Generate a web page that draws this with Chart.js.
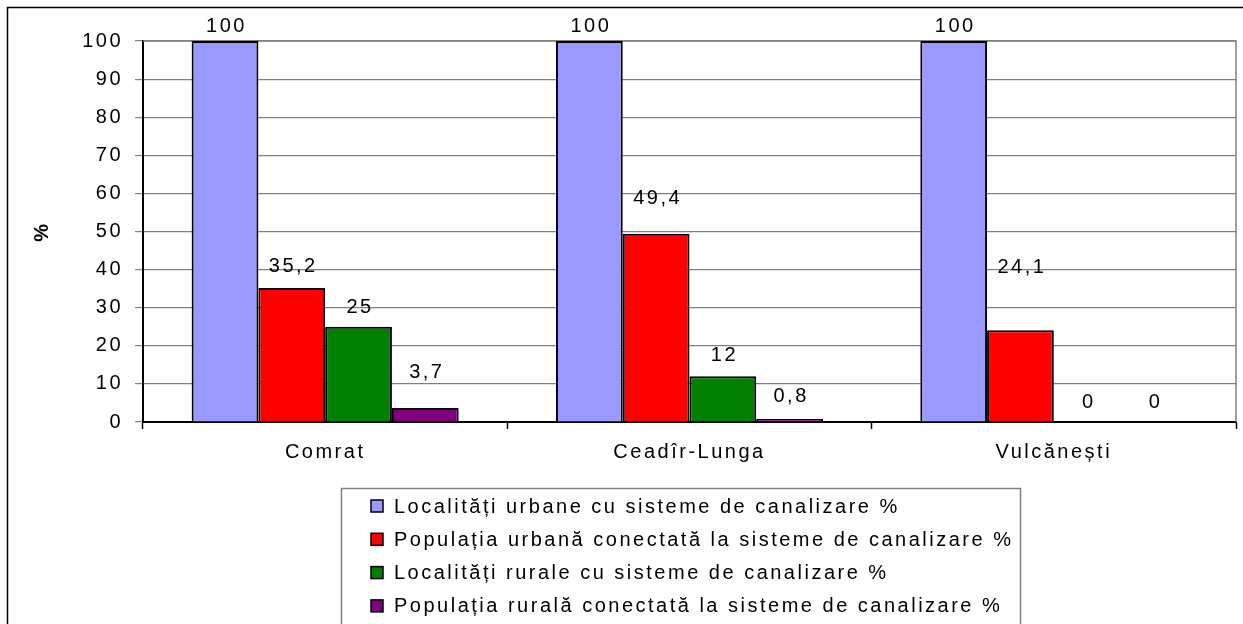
<!DOCTYPE html>
<html>
<head>
<meta charset="utf-8">
<script src="https://cdn.jsdelivr.net/npm/chart.js@4/dist/chart.umd.min.js"></script>
<style>
  html, body { margin: 0; padding: 0; background: #fff; }
  #canvasDiv { width: 1243px; height: 624px; position: relative; }
</style>
</head>
<body>
<div id="canvasDiv"><canvas id="myChart"></canvas></div>
<script>
// data
var categories = ['Comrat', 'Ceadîr-Lunga', 'Vulcănești'];
var seriesNames = [
    'Localități urbane cu sisteme de canalizare %',
    'Populația urbană conectată la sisteme de canalizare %',
    'Localități rurale cu sisteme de canalizare %',
    'Populația rurală conectată la sisteme de canalizare %'
];
var urbanLocalities = [100, 100, 100];
var urbanPopulation = [35.2, 49.4, 24.1];
var ruralLocalities = [25, 12, 0];
var ruralPopulation = [3.7, 0.8, 0];
var yMin = 0, yMax = 100, yStep = 10;

var seriesColors = ['#9999FF', '#FF0000', '#008000', '#800080'];
// how far each value label sits above its bar (px), as placed in the original
var labelLift = [[15, 15, 15], [21, 35, 63], [19, 21, 20], [35, 22, 20]];

var fontFamily = '"Liberation Sans", Arial, sans-serif';
var fontSize = 20;
var spacing = '2.5px';

function setSpacing(chart) {
    chart.ctx.letterSpacing = spacing;
}

function formatValue(v) {
    return String(v).replace('.', ',');
}

var extras = {
    id: 'extras',
    beforeUpdate: setSpacing,
    beforeLayout: setSpacing,
    beforeDraw: function (chart) {
        var ctx = chart.ctx;
        setSpacing(chart);
        ctx.save();
        ctx.fillStyle = '#fff';
        ctx.fillRect(0, 0, chart.width, chart.height);
        ctx.strokeStyle = '#000';
        ctx.lineWidth = 1.5;
        ctx.strokeRect(7.5, 7.5, 1300, 700);
        ctx.restore();
    },
    beforeDatasetsDraw: function (chart) {
        var ctx = chart.ctx, a = chart.chartArea;
        ctx.save();
        ctx.strokeStyle = '#808080';
        ctx.lineWidth = 1.5;
        ctx.beginPath();
        ctx.moveTo(a.left, a.top);
        ctx.lineTo(a.right, a.top);
        ctx.lineTo(a.right, a.bottom);
        ctx.stroke();
        ctx.restore();
    },
    afterDatasetsDraw: function (chart) {
        var ctx = chart.ctx;
        ctx.save();
        ctx.letterSpacing = spacing;
        ctx.font = fontSize + 'px ' + fontFamily;
        ctx.fillStyle = '#000';
        ctx.textAlign = 'center';
        ctx.textBaseline = 'middle';
        chart.data.datasets.forEach(function (ds, i) {
            chart.getDatasetMeta(i).data.forEach(function (bar, j) {
                ctx.fillText(formatValue(ds.data[j]), bar.x + 1.5, bar.y - labelLift[i][j]);
            });
        });
        ctx.restore();
    },
    afterDraw: function (chart) {
        var ctx = chart.ctx;
        var boxLeft = 341, boxTop = 488, boxRight = 1020;
        ctx.save();
        ctx.strokeStyle = '#808080';
        ctx.lineWidth = 1.5;
        ctx.strokeRect(boxLeft + 0.5, boxTop + 0.5, boxRight - boxLeft, 200);
        ctx.letterSpacing = spacing;
        ctx.font = fontSize + 'px ' + fontFamily;
        ctx.textAlign = 'left';
        ctx.textBaseline = 'middle';
        chart.data.datasets.forEach(function (ds, i) {
            var y = 506 + i * 33.3;
            ctx.fillStyle = ds.backgroundColor;
            ctx.fillRect(371, y - 6, 12, 12);
            ctx.strokeStyle = '#000';
            ctx.lineWidth = 1.5;
            ctx.strokeRect(371, y - 6, 12, 12);
            ctx.fillStyle = '#000';
            ctx.fillText(ds.label, 394, y + 1);
        });
        ctx.restore();
    }
};

var ctx = document.getElementById('myChart').getContext('2d');
var mychart = new Chart(ctx, {
    type: 'bar',
    data: {
        labels: categories,
        datasets: [
            { label: seriesNames[0], data: urbanLocalities, backgroundColor: seriesColors[0] },
            { label: seriesNames[1], data: urbanPopulation, backgroundColor: seriesColors[1] },
            { label: seriesNames[2], data: ruralLocalities, backgroundColor: seriesColors[2] },
            { label: seriesNames[3], data: ruralPopulation, backgroundColor: seriesColors[3] }
        ].map(function (d) {
            d.borderColor = '#000';
            d.borderWidth = 2;
            d.categoryPercentage = 0.733;
            d.barPercentage = 1.0;
            return d;
        })
    },
    options: {
        responsive: true,
        maintainAspectRatio: false,
        animation: false,
        layout: { padding: { left: 8, top: 41, right: 7, bottom: 0 } },
        font: { family: fontFamily },
        plugins: {
            legend: { display: false },
            tooltip: { enabled: false }
        },
        scales: {
            x: {
                grid: { display: true, drawOnChartArea: false, offset: true, tickLength: 7, tickColor: '#000', tickWidth: 1.5 },
                border: { color: '#000', width: 2 },
                ticks: { color: '#000', padding: 11, font: { family: fontFamily, size: fontSize } },
                afterFit: function (s) { s.height = 202; }
            },
            y: {
                min: yMin,
                max: yMax,
                grid: { color: '#808080', lineWidth: 1.2, tickLength: 8, tickColor: '#808080' },
                border: { color: '#000', width: 2 },
                ticks: { stepSize: yStep, color: '#000', padding: 12, font: { family: fontFamily, size: fontSize } },
                title: { display: true, text: '%', color: '#000', padding: { top: 22, bottom: 0 }, font: { family: fontFamily, size: fontSize, weight: 'bold' } },
                afterFit: function (s) { s.width = 135; }
            }
        }
    },
    plugins: [extras]
});
</script>
</body>
</html>
